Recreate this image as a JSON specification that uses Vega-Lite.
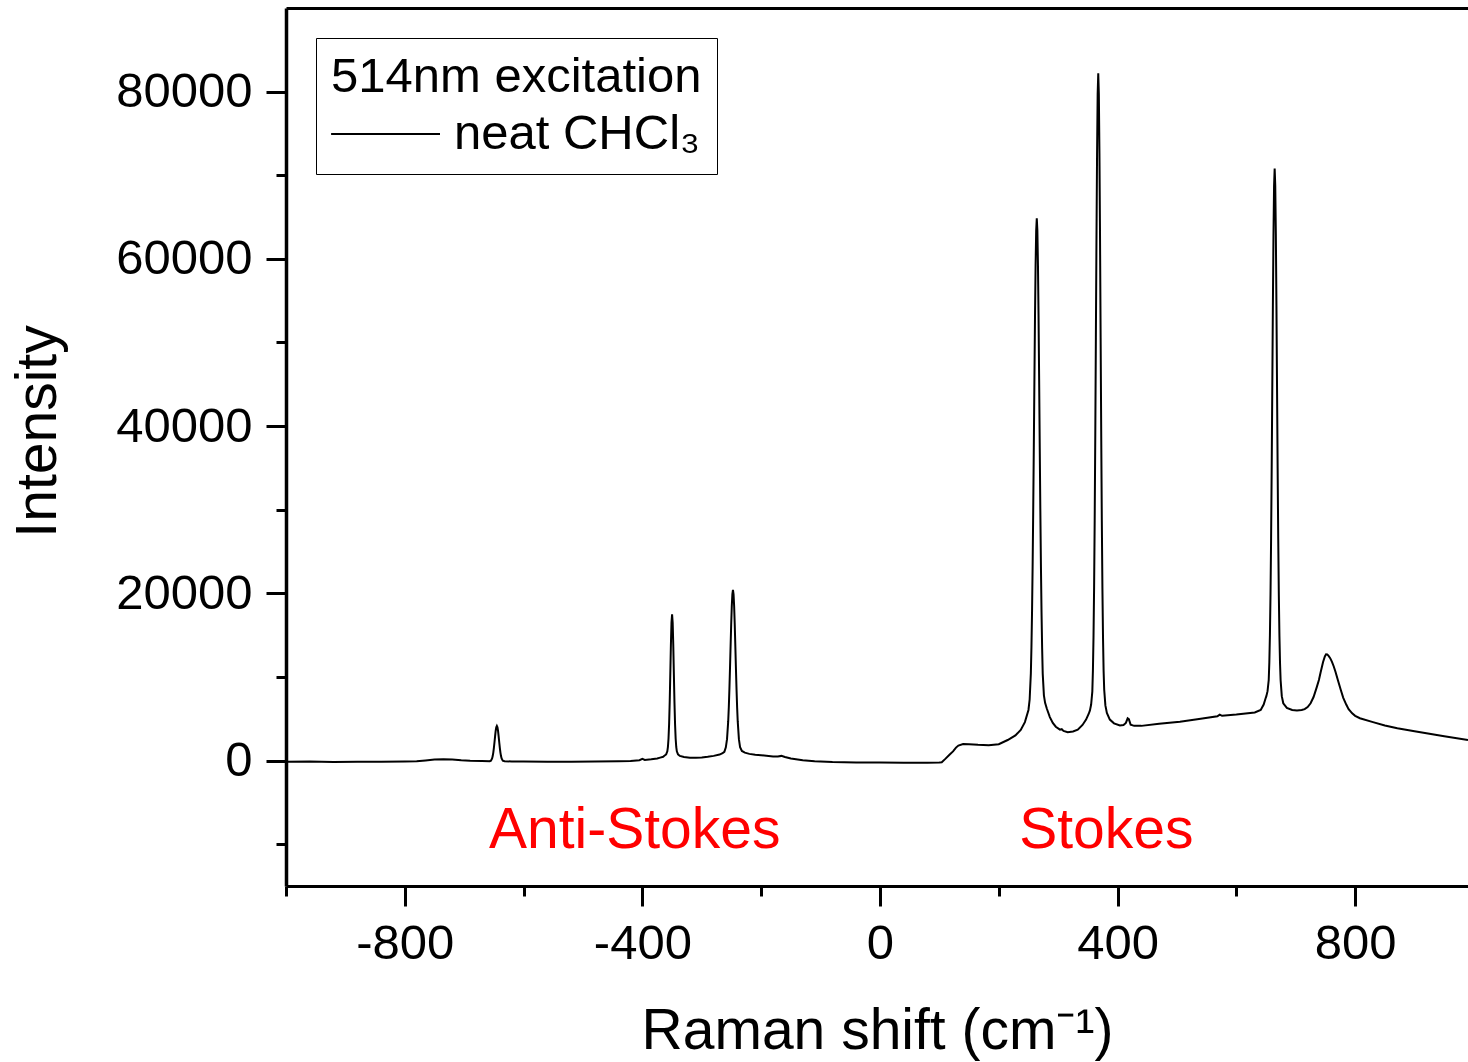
{
  "$schema": "https://vega.github.io/schema/vega-lite/v6.json",
  "width": 1182,
  "height": 878,
  "autosize": {"type": "none"},
  "padding": {"left": 286, "top": 8, "right": 0, "bottom": 176},
  "background": "white",
  "config": {
    "view": {"stroke": null},
    "font": "Liberation Sans",
    "axis": {"grid": false, "domainColor": "black", "tickColor": "black", "labelColor": "black", "titleColor": "black", "labelFont": "Liberation Sans", "titleFont": "Liberation Sans", "titleFontWeight": "normal"}
  },
  "datasets": {
    "spectrum": [
      {"shift": -1000, "intensity": -150, "series": "neat CHCl₃"},
      {"shift": -960, "intensity": -120, "series": "neat CHCl₃"},
      {"shift": -920, "intensity": -160, "series": "neat CHCl₃"},
      {"shift": -880, "intensity": -130, "series": "neat CHCl₃"},
      {"shift": -840, "intensity": -140, "series": "neat CHCl₃"},
      {"shift": -800, "intensity": -120, "series": "neat CHCl₃"},
      {"shift": -780, "intensity": -80, "series": "neat CHCl₃"},
      {"shift": -765, "intensity": 20, "series": "neat CHCl₃"},
      {"shift": -750, "intensity": 130, "series": "neat CHCl₃"},
      {"shift": -735, "intensity": 170, "series": "neat CHCl₃"},
      {"shift": -720, "intensity": 140, "series": "neat CHCl₃"},
      {"shift": -705, "intensity": 40, "series": "neat CHCl₃"},
      {"shift": -690, "intensity": -20, "series": "neat CHCl₃"},
      {"shift": -670, "intensity": -40, "series": "neat CHCl₃"},
      {"shift": -657, "intensity": -80, "series": "neat CHCl₃"},
      {"shift": -655, "intensity": -10, "series": "neat CHCl₃"},
      {"shift": -653, "intensity": 260, "series": "neat CHCl₃"},
      {"shift": -652, "intensity": 540, "series": "neat CHCl₃"},
      {"shift": -651, "intensity": 960, "series": "neat CHCl₃"},
      {"shift": -650, "intensity": 1520, "series": "neat CHCl₃"},
      {"shift": -649, "intensity": 2190, "series": "neat CHCl₃"},
      {"shift": -648, "intensity": 2900, "series": "neat CHCl₃"},
      {"shift": -647, "intensity": 3540, "series": "neat CHCl₃"},
      {"shift": -646, "intensity": 3990, "series": "neat CHCl₃"},
      {"shift": -645, "intensity": 4150, "series": "neat CHCl₃"},
      {"shift": -644, "intensity": 3990, "series": "neat CHCl₃"},
      {"shift": -643, "intensity": 3540, "series": "neat CHCl₃"},
      {"shift": -642, "intensity": 2900, "series": "neat CHCl₃"},
      {"shift": -641, "intensity": 2190, "series": "neat CHCl₃"},
      {"shift": -640, "intensity": 1520, "series": "neat CHCl₃"},
      {"shift": -639, "intensity": 960, "series": "neat CHCl₃"},
      {"shift": -638, "intensity": 540, "series": "neat CHCl₃"},
      {"shift": -637, "intensity": 260, "series": "neat CHCl₃"},
      {"shift": -635, "intensity": -10, "series": "neat CHCl₃"},
      {"shift": -632, "intensity": -80, "series": "neat CHCl₃"},
      {"shift": -620, "intensity": -110, "series": "neat CHCl₃"},
      {"shift": -600, "intensity": -120, "series": "neat CHCl₃"},
      {"shift": -560, "intensity": -140, "series": "neat CHCl₃"},
      {"shift": -520, "intensity": -130, "series": "neat CHCl₃"},
      {"shift": -480, "intensity": -110, "series": "neat CHCl₃"},
      {"shift": -440, "intensity": -80, "series": "neat CHCl₃"},
      {"shift": -420, "intensity": -40, "series": "neat CHCl₃"},
      {"shift": -405, "intensity": 50, "series": "neat CHCl₃"},
      {"shift": -400, "intensity": 200, "series": "neat CHCl₃"},
      {"shift": -396, "intensity": 80, "series": "neat CHCl₃"},
      {"shift": -385, "intensity": 150, "series": "neat CHCl₃"},
      {"shift": -375, "intensity": 250, "series": "neat CHCl₃"},
      {"shift": -370, "intensity": 350, "series": "neat CHCl₃"},
      {"shift": -365, "intensity": 450, "series": "neat CHCl₃"},
      {"shift": -363, "intensity": 565, "series": "neat CHCl₃"},
      {"shift": -360, "intensity": 730, "series": "neat CHCl₃"},
      {"shift": -358, "intensity": 1110, "series": "neat CHCl₃"},
      {"shift": -357, "intensity": 1625, "series": "neat CHCl₃"},
      {"shift": -356, "intensity": 2640, "series": "neat CHCl₃"},
      {"shift": -355, "intensity": 4375, "series": "neat CHCl₃"},
      {"shift": -354, "intensity": 7010, "series": "neat CHCl₃"},
      {"shift": -353, "intensity": 10350, "series": "neat CHCl₃"},
      {"shift": -352, "intensity": 13820, "series": "neat CHCl₃"},
      {"shift": -351, "intensity": 16490, "series": "neat CHCl₃"},
      {"shift": -350, "intensity": 17500, "series": "neat CHCl₃"},
      {"shift": -349, "intensity": 16490, "series": "neat CHCl₃"},
      {"shift": -348, "intensity": 13820, "series": "neat CHCl₃"},
      {"shift": -347, "intensity": 10350, "series": "neat CHCl₃"},
      {"shift": -346, "intensity": 7010, "series": "neat CHCl₃"},
      {"shift": -345, "intensity": 4375, "series": "neat CHCl₃"},
      {"shift": -344, "intensity": 2640, "series": "neat CHCl₃"},
      {"shift": -343, "intensity": 1625, "series": "neat CHCl₃"},
      {"shift": -342, "intensity": 1110, "series": "neat CHCl₃"},
      {"shift": -340, "intensity": 730, "series": "neat CHCl₃"},
      {"shift": -337, "intensity": 565, "series": "neat CHCl₃"},
      {"shift": -330, "intensity": 430, "series": "neat CHCl₃"},
      {"shift": -320, "intensity": 350, "series": "neat CHCl₃"},
      {"shift": -310, "intensity": 330, "series": "neat CHCl₃"},
      {"shift": -300, "intensity": 380, "series": "neat CHCl₃"},
      {"shift": -290, "intensity": 450, "series": "neat CHCl₃"},
      {"shift": -280, "intensity": 560, "series": "neat CHCl₃"},
      {"shift": -270, "intensity": 720, "series": "neat CHCl₃"},
      {"shift": -265, "intensity": 880, "series": "neat CHCl₃"},
      {"shift": -262, "intensity": 1050, "series": "neat CHCl₃"},
      {"shift": -259.5, "intensity": 1590, "series": "neat CHCl₃"},
      {"shift": -257.5, "intensity": 2560, "series": "neat CHCl₃"},
      {"shift": -255.5, "intensity": 4710, "series": "neat CHCl₃"},
      {"shift": -254.5, "intensity": 6380, "series": "neat CHCl₃"},
      {"shift": -253.5, "intensity": 8520, "series": "neat CHCl₃"},
      {"shift": -252.5, "intensity": 11000, "series": "neat CHCl₃"},
      {"shift": -251.5, "intensity": 13670, "series": "neat CHCl₃"},
      {"shift": -250.5, "intensity": 16250, "series": "neat CHCl₃"},
      {"shift": -249.5, "intensity": 18420, "series": "neat CHCl₃"},
      {"shift": -248.5, "intensity": 19890, "series": "neat CHCl₃"},
      {"shift": -247.5, "intensity": 20400, "series": "neat CHCl₃"},
      {"shift": -246.5, "intensity": 19890, "series": "neat CHCl₃"},
      {"shift": -245.5, "intensity": 18420, "series": "neat CHCl₃"},
      {"shift": -244.5, "intensity": 16250, "series": "neat CHCl₃"},
      {"shift": -243.5, "intensity": 13670, "series": "neat CHCl₃"},
      {"shift": -242.5, "intensity": 11000, "series": "neat CHCl₃"},
      {"shift": -241.5, "intensity": 8520, "series": "neat CHCl₃"},
      {"shift": -240.5, "intensity": 6380, "series": "neat CHCl₃"},
      {"shift": -239.5, "intensity": 4710, "series": "neat CHCl₃"},
      {"shift": -237.5, "intensity": 2560, "series": "neat CHCl₃"},
      {"shift": -235.5, "intensity": 1590, "series": "neat CHCl₃"},
      {"shift": -232.5, "intensity": 1150, "series": "neat CHCl₃"},
      {"shift": -227.5, "intensity": 950, "series": "neat CHCl₃"},
      {"shift": -220, "intensity": 800, "series": "neat CHCl₃"},
      {"shift": -210, "intensity": 700, "series": "neat CHCl₃"},
      {"shift": -195, "intensity": 600, "series": "neat CHCl₃"},
      {"shift": -180, "intensity": 480, "series": "neat CHCl₃"},
      {"shift": -172, "intensity": 500, "series": "neat CHCl₃"},
      {"shift": -166, "intensity": 560, "series": "neat CHCl₃"},
      {"shift": -160, "intensity": 420, "series": "neat CHCl₃"},
      {"shift": -150, "intensity": 250, "series": "neat CHCl₃"},
      {"shift": -130, "intensity": 50, "series": "neat CHCl₃"},
      {"shift": -110, "intensity": -80, "series": "neat CHCl₃"},
      {"shift": -80, "intensity": -180, "series": "neat CHCl₃"},
      {"shift": -40, "intensity": -230, "series": "neat CHCl₃"},
      {"shift": 0, "intensity": -240, "series": "neat CHCl₃"},
      {"shift": 40, "intensity": -250, "series": "neat CHCl₃"},
      {"shift": 80, "intensity": -250, "series": "neat CHCl₃"},
      {"shift": 100, "intensity": -240, "series": "neat CHCl₃"},
      {"shift": 104, "intensity": -200, "series": "neat CHCl₃"},
      {"shift": 110, "intensity": 200, "series": "neat CHCl₃"},
      {"shift": 117, "intensity": 700, "series": "neat CHCl₃"},
      {"shift": 123, "intensity": 1100, "series": "neat CHCl₃"},
      {"shift": 128, "intensity": 1550, "series": "neat CHCl₃"},
      {"shift": 132, "intensity": 1800, "series": "neat CHCl₃"},
      {"shift": 140, "intensity": 1980, "series": "neat CHCl₃"},
      {"shift": 150, "intensity": 1950, "series": "neat CHCl₃"},
      {"shift": 165, "intensity": 1880, "series": "neat CHCl₃"},
      {"shift": 183, "intensity": 1830, "series": "neat CHCl₃"},
      {"shift": 200, "intensity": 1950, "series": "neat CHCl₃"},
      {"shift": 215, "intensity": 2460, "series": "neat CHCl₃"},
      {"shift": 228, "intensity": 3000, "series": "neat CHCl₃"},
      {"shift": 237, "intensity": 3660, "series": "neat CHCl₃"},
      {"shift": 244, "intensity": 4600, "series": "neat CHCl₃"},
      {"shift": 250, "intensity": 6050, "series": "neat CHCl₃"},
      {"shift": 252, "intensity": 7300, "series": "neat CHCl₃"},
      {"shift": 254, "intensity": 10400, "series": "neat CHCl₃"},
      {"shift": 255, "intensity": 13500, "series": "neat CHCl₃"},
      {"shift": 256, "intensity": 17700, "series": "neat CHCl₃"},
      {"shift": 257, "intensity": 23200, "series": "neat CHCl₃"},
      {"shift": 258, "intensity": 29900, "series": "neat CHCl₃"},
      {"shift": 259, "intensity": 37400, "series": "neat CHCl₃"},
      {"shift": 260, "intensity": 45400, "series": "neat CHCl₃"},
      {"shift": 261, "intensity": 53000, "series": "neat CHCl₃"},
      {"shift": 262, "intensity": 59200, "series": "neat CHCl₃"},
      {"shift": 263, "intensity": 63400, "series": "neat CHCl₃"},
      {"shift": 264, "intensity": 64850, "series": "neat CHCl₃"},
      {"shift": 265, "intensity": 63400, "series": "neat CHCl₃"},
      {"shift": 266, "intensity": 59200, "series": "neat CHCl₃"},
      {"shift": 267, "intensity": 53000, "series": "neat CHCl₃"},
      {"shift": 268, "intensity": 45400, "series": "neat CHCl₃"},
      {"shift": 269, "intensity": 37400, "series": "neat CHCl₃"},
      {"shift": 270, "intensity": 29900, "series": "neat CHCl₃"},
      {"shift": 271, "intensity": 23200, "series": "neat CHCl₃"},
      {"shift": 272, "intensity": 17700, "series": "neat CHCl₃"},
      {"shift": 273, "intensity": 13500, "series": "neat CHCl₃"},
      {"shift": 274, "intensity": 10400, "series": "neat CHCl₃"},
      {"shift": 276, "intensity": 7800, "series": "neat CHCl₃"},
      {"shift": 278, "intensity": 6900, "series": "neat CHCl₃"},
      {"shift": 281, "intensity": 6200, "series": "neat CHCl₃"},
      {"shift": 286, "intensity": 5200, "series": "neat CHCl₃"},
      {"shift": 291, "intensity": 4500, "series": "neat CHCl₃"},
      {"shift": 296, "intensity": 4050, "series": "neat CHCl₃"},
      {"shift": 303, "intensity": 3700, "series": "neat CHCl₃"},
      {"shift": 306, "intensity": 3750, "series": "neat CHCl₃"},
      {"shift": 309, "intensity": 3550, "series": "neat CHCl₃"},
      {"shift": 316, "intensity": 3400, "series": "neat CHCl₃"},
      {"shift": 325, "intensity": 3480, "series": "neat CHCl₃"},
      {"shift": 333, "intensity": 3700, "series": "neat CHCl₃"},
      {"shift": 341, "intensity": 4260, "series": "neat CHCl₃"},
      {"shift": 347, "intensity": 4900, "series": "neat CHCl₃"},
      {"shift": 351.5, "intensity": 5600, "series": "neat CHCl₃"},
      {"shift": 353.5, "intensity": 6000, "series": "neat CHCl₃"},
      {"shift": 355.5, "intensity": 6700, "series": "neat CHCl₃"},
      {"shift": 357.5, "intensity": 8250, "series": "neat CHCl₃"},
      {"shift": 358.5, "intensity": 10740, "series": "neat CHCl₃"},
      {"shift": 359.5, "intensity": 14740, "series": "neat CHCl₃"},
      {"shift": 360.5, "intensity": 20650, "series": "neat CHCl₃"},
      {"shift": 361.5, "intensity": 28750, "series": "neat CHCl₃"},
      {"shift": 362.5, "intensity": 38940, "series": "neat CHCl₃"},
      {"shift": 363.5, "intensity": 50550, "series": "neat CHCl₃"},
      {"shift": 364.5, "intensity": 62360, "series": "neat CHCl₃"},
      {"shift": 365.5, "intensity": 72640, "series": "neat CHCl₃"},
      {"shift": 366.5, "intensity": 79680, "series": "neat CHCl₃"},
      {"shift": 367.5, "intensity": 82200, "series": "neat CHCl₃"},
      {"shift": 368.5, "intensity": 79680, "series": "neat CHCl₃"},
      {"shift": 369.5, "intensity": 72640, "series": "neat CHCl₃"},
      {"shift": 370.5, "intensity": 62360, "series": "neat CHCl₃"},
      {"shift": 371.5, "intensity": 50550, "series": "neat CHCl₃"},
      {"shift": 372.5, "intensity": 38940, "series": "neat CHCl₃"},
      {"shift": 373.5, "intensity": 28750, "series": "neat CHCl₃"},
      {"shift": 374.5, "intensity": 20650, "series": "neat CHCl₃"},
      {"shift": 375.5, "intensity": 14740, "series": "neat CHCl₃"},
      {"shift": 376.5, "intensity": 10740, "series": "neat CHCl₃"},
      {"shift": 377.5, "intensity": 8500, "series": "neat CHCl₃"},
      {"shift": 379.5, "intensity": 6600, "series": "neat CHCl₃"},
      {"shift": 382, "intensity": 5700, "series": "neat CHCl₃"},
      {"shift": 387, "intensity": 4900, "series": "neat CHCl₃"},
      {"shift": 394, "intensity": 4450, "series": "neat CHCl₃"},
      {"shift": 404, "intensity": 4200, "series": "neat CHCl₃"},
      {"shift": 410, "intensity": 4250, "series": "neat CHCl₃"},
      {"shift": 414, "intensity": 4500, "series": "neat CHCl₃"},
      {"shift": 417, "intensity": 5050, "series": "neat CHCl₃"},
      {"shift": 419, "intensity": 4950, "series": "neat CHCl₃"},
      {"shift": 422, "intensity": 4300, "series": "neat CHCl₃"},
      {"shift": 428, "intensity": 4150, "series": "neat CHCl₃"},
      {"shift": 440, "intensity": 4150, "series": "neat CHCl₃"},
      {"shift": 470, "intensity": 4400, "series": "neat CHCl₃"},
      {"shift": 505, "intensity": 4650, "series": "neat CHCl₃"},
      {"shift": 540, "intensity": 5000, "series": "neat CHCl₃"},
      {"shift": 568, "intensity": 5300, "series": "neat CHCl₃"},
      {"shift": 572, "intensity": 5500, "series": "neat CHCl₃"},
      {"shift": 576, "intensity": 5350, "series": "neat CHCl₃"},
      {"shift": 600, "intensity": 5500, "series": "neat CHCl₃"},
      {"shift": 631, "intensity": 5750, "series": "neat CHCl₃"},
      {"shift": 641, "intensity": 6050, "series": "neat CHCl₃"},
      {"shift": 646, "intensity": 6700, "series": "neat CHCl₃"},
      {"shift": 649, "intensity": 7400, "series": "neat CHCl₃"},
      {"shift": 650.5, "intensity": 7700, "series": "neat CHCl₃"},
      {"shift": 652.5, "intensity": 8300, "series": "neat CHCl₃"},
      {"shift": 654.5, "intensity": 9630, "series": "neat CHCl₃"},
      {"shift": 655.5, "intensity": 11690, "series": "neat CHCl₃"},
      {"shift": 656.5, "intensity": 14990, "series": "neat CHCl₃"},
      {"shift": 657.5, "intensity": 19870, "series": "neat CHCl₃"},
      {"shift": 658.5, "intensity": 26570, "series": "neat CHCl₃"},
      {"shift": 659.5, "intensity": 35000, "series": "neat CHCl₃"},
      {"shift": 660.5, "intensity": 44620, "series": "neat CHCl₃"},
      {"shift": 661.5, "intensity": 54380, "series": "neat CHCl₃"},
      {"shift": 662.5, "intensity": 62900, "series": "neat CHCl₃"},
      {"shift": 663.5, "intensity": 68730, "series": "neat CHCl₃"},
      {"shift": 664.5, "intensity": 70800, "series": "neat CHCl₃"},
      {"shift": 665.5, "intensity": 68730, "series": "neat CHCl₃"},
      {"shift": 666.5, "intensity": 62900, "series": "neat CHCl₃"},
      {"shift": 667.5, "intensity": 54380, "series": "neat CHCl₃"},
      {"shift": 668.5, "intensity": 44620, "series": "neat CHCl₃"},
      {"shift": 669.5, "intensity": 35000, "series": "neat CHCl₃"},
      {"shift": 670.5, "intensity": 26570, "series": "neat CHCl₃"},
      {"shift": 671.5, "intensity": 19870, "series": "neat CHCl₃"},
      {"shift": 672.5, "intensity": 14990, "series": "neat CHCl₃"},
      {"shift": 673.5, "intensity": 11690, "series": "neat CHCl₃"},
      {"shift": 674.5, "intensity": 9630, "series": "neat CHCl₃"},
      {"shift": 676.5, "intensity": 7700, "series": "neat CHCl₃"},
      {"shift": 679, "intensity": 6850, "series": "neat CHCl₃"},
      {"shift": 685, "intensity": 6300, "series": "neat CHCl₃"},
      {"shift": 694, "intensity": 6050, "series": "neat CHCl₃"},
      {"shift": 702, "intensity": 6000, "series": "neat CHCl₃"},
      {"shift": 710, "intensity": 6050, "series": "neat CHCl₃"},
      {"shift": 715, "intensity": 6150, "series": "neat CHCl₃"},
      {"shift": 720, "intensity": 6400, "series": "neat CHCl₃"},
      {"shift": 725, "intensity": 6850, "series": "neat CHCl₃"},
      {"shift": 730, "intensity": 7600, "series": "neat CHCl₃"},
      {"shift": 735, "intensity": 8700, "series": "neat CHCl₃"},
      {"shift": 739, "intensity": 9640, "series": "neat CHCl₃"},
      {"shift": 742, "intensity": 10600, "series": "neat CHCl₃"},
      {"shift": 746, "intensity": 11800, "series": "neat CHCl₃"},
      {"shift": 749, "intensity": 12450, "series": "neat CHCl₃"},
      {"shift": 751, "intensity": 12700, "series": "neat CHCl₃"},
      {"shift": 753, "intensity": 12680, "series": "neat CHCl₃"},
      {"shift": 755, "intensity": 12550, "series": "neat CHCl₃"},
      {"shift": 758, "intensity": 12250, "series": "neat CHCl₃"},
      {"shift": 761, "intensity": 11800, "series": "neat CHCl₃"},
      {"shift": 764, "intensity": 11250, "series": "neat CHCl₃"},
      {"shift": 767, "intensity": 10600, "series": "neat CHCl₃"},
      {"shift": 771, "intensity": 9600, "series": "neat CHCl₃"},
      {"shift": 776, "intensity": 8400, "series": "neat CHCl₃"},
      {"shift": 780, "intensity": 7500, "series": "neat CHCl₃"},
      {"shift": 785, "intensity": 6700, "series": "neat CHCl₃"},
      {"shift": 789, "intensity": 6150, "series": "neat CHCl₃"},
      {"shift": 795, "intensity": 5650, "series": "neat CHCl₃"},
      {"shift": 800, "intensity": 5350, "series": "neat CHCl₃"},
      {"shift": 808, "intensity": 5060, "series": "neat CHCl₃"},
      {"shift": 830, "intensity": 4600, "series": "neat CHCl₃"},
      {"shift": 850, "intensity": 4200, "series": "neat CHCl₃"},
      {"shift": 871, "intensity": 3860, "series": "neat CHCl₃"},
      {"shift": 900, "intensity": 3500, "series": "neat CHCl₃"},
      {"shift": 950, "intensity": 2900, "series": "neat CHCl₃"},
      {"shift": 990, "intensity": 2450, "series": "neat CHCl₃"}
    ],
    "labels": [
      {"label": "Anti-Stokes", "x": -413, "y": -10450},
      {"label": "Stokes", "x": 381, "y": -10450}
    ]
  },
  "layer": [
    {
      "data": {"name": "spectrum"},
      "mark": {"type": "line", "strokeWidth": 2, "interpolate": "linear"},
      "encoding": {
        "x": {
          "field": "shift", "type": "quantitative",
          "scale": {"domain": [-1000, 990], "nice": false, "zero": false},
          "axis": {"orient": "bottom", "values": [-800, -400, 0, 400, 800], "labelExpr": "datum.value + ''", "title": "Raman shift (cm⁻¹)", "tickSize": 20, "tickWidth": 3, "domainWidth": 3, "labelFontSize": 49, "labelPadding": 13, "labelFlush": false, "labelOverlap": false, "titleFontSize": 57, "titleBaseline": "alphabetic", "titleY": 162}
        },
        "y": {
          "field": "intensity", "type": "quantitative",
          "scale": {"domain": [-15000, 90000], "nice": false, "zero": false},
          "axis": {"orient": "left", "values": [0, 20000, 40000, 60000, 80000], "format": "d", "tickSize": 20, "tickWidth": 3, "domainWidth": 3.5, "labelFontSize": 49, "labelPadding": 14, "labelOverlap": false, "title": "Intensity", "titleFontSize": 57, "titleAngle": -90, "titleBaseline": "alphabetic", "titleX": -231, "titleY": 423}
        },
        "color": {
          "field": "series", "type": "nominal",
          "scale": {"range": ["black"]},
          "legend": {"orient": "none", "legendX": 30, "legendY": 30, "title": "514nm excitation", "titleFontSize": 49, "titleFontWeight": "normal", "titleColor": "black", "titleFont": "Liberation Sans", "titleLimit": 0, "titlePadding": 1, "labelFontSize": 49, "labelColor": "black", "labelFont": "Liberation Sans", "labelLimit": 0, "labelOffset": 61, "symbolType": "M-1.03,0H2.6", "symbolSize": 3600, "symbolStrokeWidth": 2, "symbolStrokeColor": "black", "symbolFillColor": "transparent", "padding": 15, "strokeColor": "black"}
        }
      }
    },
    {
      "data": {"name": "labels"},
      "mark": {"type": "text", "color": "#ff0000", "fontSize": 57, "font": "Liberation Sans", "baseline": "alphabetic", "align": "center"},
      "encoding": {
        "x": {"field": "x", "type": "quantitative", "scale": {"domain": [-1000, 990], "nice": false, "zero": false},
          "axis": {"orient": "bottom", "values": [-1000, -600, -200, 200, 600], "labels": false, "tickSize": 10, "tickWidth": 3, "domain": false, "title": null}},
        "y": {"field": "y", "type": "quantitative", "scale": {"domain": [-15000, 90000], "nice": false, "zero": false},
          "axis": {"orient": "left", "values": [-10000, 10000, 30000, 50000, 70000], "labels": false, "tickSize": 10, "tickWidth": 3, "domain": false, "title": null}},
        "text": {"field": "label", "type": "nominal"}
      }
    },
    {
      "data": {"name": "labels"},
      "mark": {"type": "point", "opacity": 0},
      "encoding": {
        "x": {"field": "x", "type": "quantitative", "scale": {"domain": [-1000, 990], "nice": false, "zero": false},
          "axis": {"orient": "top", "ticks": false, "labels": false, "domainWidth": 3, "title": null}},
        "y": {"field": "y", "type": "quantitative", "scale": {"domain": [-15000, 90000], "nice": false, "zero": false}, "axis": null}
      }
    }
  ],
  "resolve": {"axis": {"x": "independent", "y": "independent"}}
}
